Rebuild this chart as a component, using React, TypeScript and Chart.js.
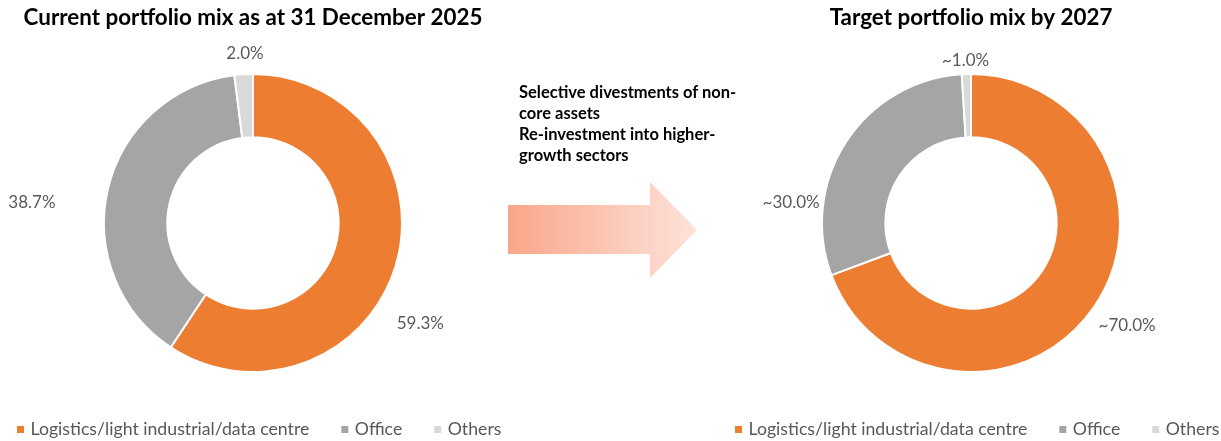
import React, { useEffect, useRef } from "react";
import { Chart, registerables } from "chart.js";

Chart.register(...registerables);

// ---------- data ----------
const CATEGORIES = ["Logistics/light industrial/data centre", "Office", "Others"];
const CURRENT_VALUES = [59.3, 38.7, 2.0];
const TARGET_VALUES = [70, 30, 1];
const CURRENT_LABELS = ["59.3%", "38.7%", "2.0%"];
const TARGET_LABELS = ["~70.0%", "~30.0%", "~1.0%"];
const CURRENT_TITLE = "Current portfolio mix as at 31 December 2025";
const TARGET_TITLE = "Target portfolio mix by 2027";
const MIDDLE_LINES = [
  "Selective divestments of non-",
  "core assets",
  "Re-investment into higher-",
  "growth sectors",
];

// ---------- styles ----------
const COLORS = ["#ED7D31", "#A5A5A5", "#D9D9D9"];
const FONT = "Lato, 'Open Sans', sans-serif";
// label placement: [angle in degrees clockwise from 12 o'clock, distance from centre]
const CURRENT_LABEL_POS: [number, number][] = [[120.9, 195], [275.2, 222], [357.3, 170]];
const TARGET_LABEL_POS: [number, number][] = [[123.4, 187], [276.4, 181], [358.1, 163]];
const CANVAS_W = 560;
const CANVAS_H = 441;

const outsideLabels = {
  id: "outsideLabels",
  afterDatasetsDraw(chart: any, _args: any, opts: any) {
    const meta = chart.getDatasetMeta(0);
    if (!meta || !meta.data.length) return;
    const { x, y } = meta.data[0];
    const ctx = chart.ctx;
    ctx.save();
    ctx.font = `17px ${FONT}`;
    ctx.fillStyle = "#595959";
    ctx.textAlign = "center";
    ctx.textBaseline = "middle";
    (opts.texts as string[]).forEach((t, i) => {
      const [a, r] = opts.pos[i];
      const rad = (a * Math.PI) / 180;
      ctx.fillText(t, x + r * Math.sin(rad), y - r * Math.cos(rad));
    });
    ctx.restore();
  },
};

// legend row along the bottom, starting left of the doughnut centre
const bottomLegend = {
  id: "bottomLegend",
  afterDraw(chart: any, _args: any, opts: any) {
    const ctx = chart.ctx;
    const cx = (chart.chartArea.left + chart.chartArea.right) / 2;
    let x = cx - opts.startOffset;
    const y = chart.height - opts.bottom;
    ctx.save();
    ctx.font = `17.7px ${FONT}`;
    ctx.textAlign = "left";
    ctx.textBaseline = "middle";
    (opts.items as string[]).forEach((c, i) => {
      ctx.fillStyle = opts.colors[i];
      ctx.fillRect(x, y - 3.5, 7, 7);
      ctx.fillStyle = "#595959";
      ctx.fillText(c, x + 13.5, y);
      x += 13.5 + ctx.measureText(c).width + 32;
    });
    ctx.restore();
  },
};

function Donut({ title, values, texts, pos, centerX }: {
  title: string; values: number[]; texts: string[]; pos: [number, number][]; centerX: number;
}) {
  const ref = useRef<HTMLCanvasElement | null>(null);
  useEffect(() => {
    if (!ref.current) return;
    const chart = new Chart(ref.current, {
      type: "doughnut",
      data: {
        labels: CATEGORIES,
        datasets: [
          {
            data: values,
            backgroundColor: COLORS,
            borderColor: "#ffffff",
            borderWidth: 2,
            hoverOffset: 0,
            radius: 149,
            cutout: "57.5%",
          } as any,
        ],
      },
      options: {
        responsive: false,
        animation: false,
        events: [],
        layout: { padding: { top: 0, left: 0, right: 0, bottom: 69 } },
        plugins: {
          title: {
            display: true,
            text: title,
            color: "#000000",
            font: { family: FONT, size: 22.4, weight: "bold" },
            padding: { top: 4, bottom: 43.1 },
          },
          legend: { display: false },
          tooltip: { enabled: false },
          outsideLabels: { texts, pos },
          bottomLegend: { items: CATEGORIES, colors: COLORS, startOffset: 236, bottom: 11.5 },
        } as any,
      },
      plugins: [outsideLabels, bottomLegend],
    });
    return () => chart.destroy();
  }, []);
  return (
    <canvas
      ref={ref}
      width={CANVAS_W}
      height={CANVAS_H}
      style={{ position: "absolute", left: centerX - CANVAS_W / 2, top: 0, width: CANVAS_W, height: CANVAS_H }}
    />
  );
}

export default function App() {
  return (
    <div
      style={{
        position: "fixed",
        left: 0,
        top: 0,
        width: 1221,
        height: 441,
        overflow: "hidden",
        background: "#ffffff",
      }}
    >
      <Donut title={CURRENT_TITLE} values={CURRENT_VALUES} texts={CURRENT_LABELS} pos={CURRENT_LABEL_POS} centerX={253} />
      <Donut title={TARGET_TITLE} values={TARGET_VALUES} texts={TARGET_LABELS} pos={TARGET_LABEL_POS} centerX={971} />
      <div
        style={{
          position: "absolute",
          left: 519,
          top: 82,
          fontFamily: FONT,
          fontWeight: 700,
          fontSize: 16.5,
          lineHeight: "21px",
          color: "#000000",
          whiteSpace: "nowrap",
        }}
      >
        {MIDDLE_LINES.map((l, i) => (
          <div key={i}>{l}</div>
        ))}
      </div>
      <svg
        width={189}
        height={96}
        style={{ position: "absolute", left: 508, top: 182 }}
      >
        <defs>
          <linearGradient id="arrowGrad" x1="0" y1="0" x2="1" y2="0">
            <stop offset="0%" stopColor="#F9A68A" />
            <stop offset="100%" stopColor="#FDE3DA" />
          </linearGradient>
        </defs>
        <polygon points="0,23 142,23 142,0 189,48 142,96 142,72 0,72" fill="url(#arrowGrad)" />
      </svg>
    </div>
  );
}
